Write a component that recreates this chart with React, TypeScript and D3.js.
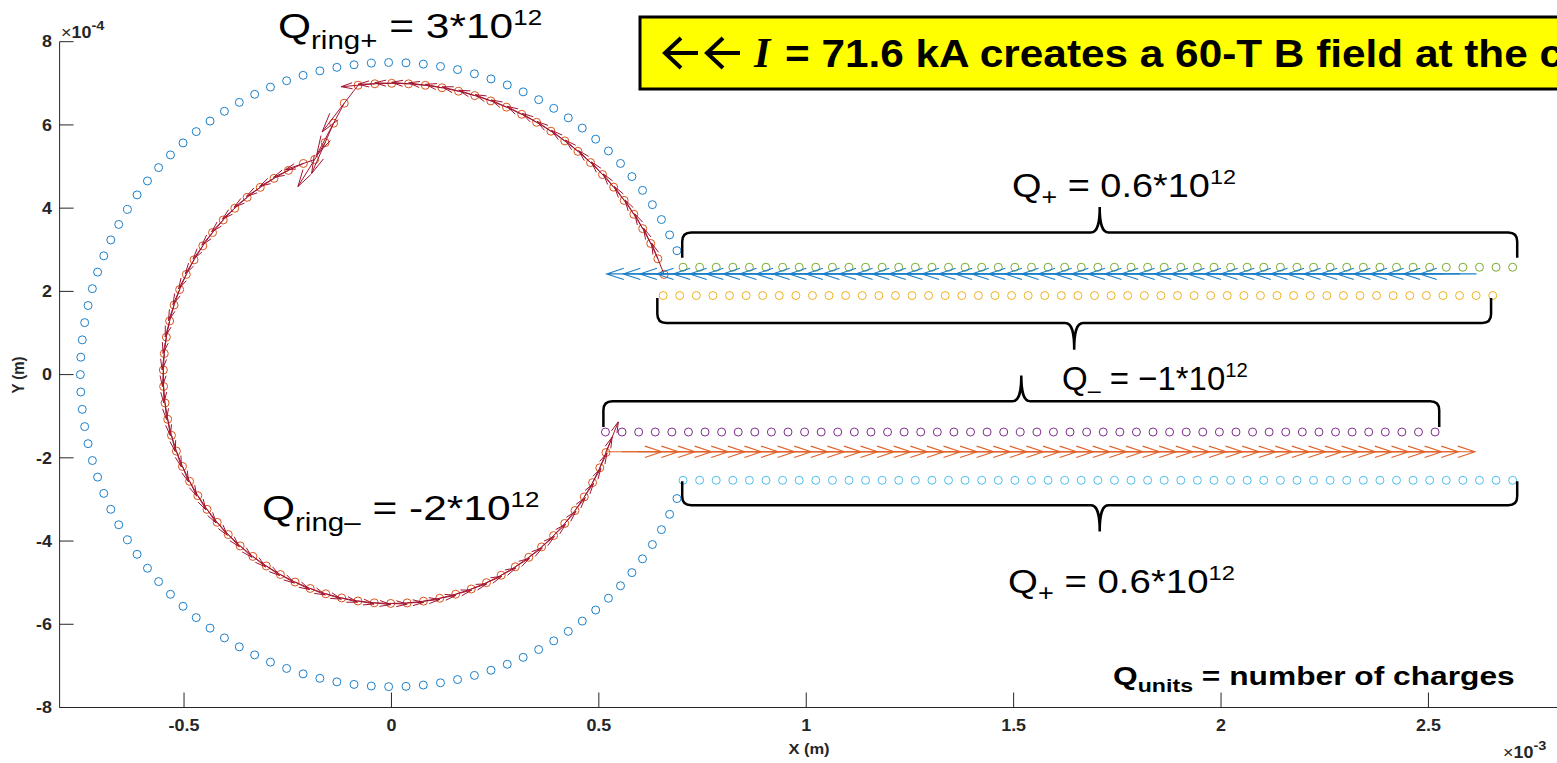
import * as d3 from "d3";

// ---- data (metres) ----
const xTickValues = [-0.5, 0, 0.5, 1, 1.5, 2, 2.5]; // x 10^-3
const yTickValues = [-8, -6, -4, -2, 0, 2, 4, 6, 8]; // x 10^-4

// outer ring of charges: radius, first angle (deg), last angle, count
const outerRing = [7.5e-4, 23.4, 336.6, 99];

// straight rows of charges
const rowY = [2.58e-4, 1.9e-4, -1.38e-4, -2.54e-4];
const rowX0 = [0.703e-3, 0.655e-3, 0.516e-3, 0.703e-3];
const rowX1 = [2.703e-3, 2.655e-3, 2.516e-3, 2.703e-3];
const rowCount = [51, 51, 51, 51];
const rowColors = ["#77AC30", "#EDB120", "#7E2F8E", "#4DBEEE"];

// red trajectory: upper arc (r, from, to, n), jump points, lower arc
const pathUpper = [7.0e-4, 20.1, 96.6, 24];
const pathJumpR = [6.62e-4, 6.2e-4, 5.8e-4, 5.49e-4];
const pathJumpDeg = [99.9, 103, 106, 109.7];
const pathLower = [5.5e-4, 112.7, 340.1, 56];

// quivers along the wires: y, first x, last x, count, arrow dx
const quiverBlue = [2.42e-4, 2.616e-3, 0.656e-3, 50, -0.137e-3];
const quiverOrange = [-1.855e-4, 0.515e-3, 2.475e-3, 50, 0.137e-3];

// braces: x ends, end y, line y, tip y
const braceX0 = [0.701e-3, 0.641e-3, 0.511e-3, 0.701e-3];
const braceX1 = [2.714e-3, 2.651e-3, 2.526e-3, 2.714e-3];
const braceEndY = [2.81e-4, 1.843e-4, -1.26e-4, -2.56e-4];
const braceLineY = [3.415e-4, 1.241e-4, -0.64e-4, -3.14e-4];
const braceTipY = [4.03e-4, 0.6e-4, -0.02e-4, -3.77e-4];

const W = 1557;
const H = 763;
const FONT = "'Liberation Sans', Arial, sans-serif";
const AX = "#262626";

const x = d3.scaleLinear().domain([-0.8e-3, 2.9e-3]).range([59.6, 59.6 + 3.7 * 414.8]);
const y = d3.scaleLinear().domain([-8e-4, 8e-4]).range([707.5, 41.7]);

const arc = (r: number, a0: number, a1: number, n: number) =>
  d3.range(n).map((i) => {
    const a = ((a0 + ((a1 - a0) * i) / (n - 1)) * Math.PI) / 180;
    return [r * Math.cos(a), r * Math.sin(a)];
  });

const ringPts = arc(outerRing[0], outerRing[1], outerRing[2], outerRing[3]);
const redPts = [
  ...arc(pathUpper[0], pathUpper[1], pathUpper[2], pathUpper[3]),
  ...pathJumpR.map((r, i) => {
    const a = (pathJumpDeg[i] * Math.PI) / 180;
    return [r * Math.cos(a), r * Math.sin(a)];
  }),
  ...arc(pathLower[0], pathLower[1], pathLower[2], pathLower[3]),
];
const jumpStart = pathUpper[3] - 1;
const jumpEnd = pathUpper[3] + pathJumpR.length;

function arrowPath(x1: number, y1: number, x2: number, y2: number, hf: number, wf: number) {
  const dx = x2 - x1;
  const dy = y2 - y1;
  const L = Math.hypot(dx, dy);
  const ux = dx / L;
  const uy = dy / L;
  const bx = x2 - ux * L * hf;
  const by = y2 - uy * L * hf;
  const px = -uy * L * wf;
  const py = ux * L * wf;
  return `M${x1},${y1}L${x2},${y2}M${bx + px},${by + py}L${x2},${y2}L${bx - px},${by - py}`;
}

const redArrows = redPts.map((p, i) => {
  const a = i < redPts.length - 1 ? p : redPts[i - 1];
  const b = i < redPts.length - 1 ? redPts[i + 1] : p;
  const k = i >= jumpStart && i < jumpEnd ? 2.6 : 2.0;
  const x1 = x(p[0]);
  const y1 = y(p[1]);
  const x2 = x1 + (x(b[0]) - x(a[0])) * k;
  const y2 = y1 + (y(b[1]) - y(a[1])) * k;
  return arrowPath(x1, y1, x2, y2, 0.33, 0.09);
});

function quiver(q: number[]) {
  const [qy, q0, q1, n, du] = q;
  return d3.range(n).map((i) => {
    const qx = q0 + ((q1 - q0) * i) / (n - 1);
    return arrowPath(x(qx), y(qy), x(qx + du), y(qy), 0.3, 0.1);
  });
}

function bracePath(i: number) {
  const x0 = x(braceX0[i]);
  const x1 = x(braceX1[i]);
  const ye = y(braceEndY[i]);
  const yl = y(braceLineY[i]);
  const yt = y(braceTipY[i]);
  const s = Math.sign(yl - ye);
  const r = 9;
  const m = (x0 + x1) / 2;
  const w = 9;
  const c = yl + (yt - yl) * 0.35;
  return (
    `M${x0},${ye}L${x0},${yl - s * r}Q${x0},${yl} ${x0 + r},${yl}L${m - w},${yl}` +
    `C${m - 2},${yl} ${m},${c} ${m},${yt}C${m},${c} ${m + 2},${yl} ${m + w},${yl}` +
    `L${x1 - r},${yl}Q${x1},${yl} ${x1},${yl - s * r}L${x1},${ye}`
  );
}

// text that is stretched horizontally like the slide it came from
const Wide = ({
  tx,
  ty,
  sx,
  children,
  ...rest
}: { tx: number; ty: number; sx: number; children: React.ReactNode; [k: string]: unknown }) => (
  <g transform={`translate(${tx},${ty}) scale(${sx},1)`}>
    <text {...rest}>{children}</text>
  </g>
);

const Arrow = ({ x0 }: { x0: number }) => (
  <path
    d={`M${x0 + 35},53 L${x0 + 2},53 M${x0 + 18},38 L${x0 + 2},53 L${x0 + 18},68`}
    stroke="#000"
    strokeWidth={4}
    fill="none"
  />
);

export default function App() {
  const plotRight = W;
  const left = x.range()[0];
  const bottom = y(-8e-4);
  return (
    <svg width={W} height={H} style={{ position: "absolute", left: 0, top: 0 }} fontFamily={FONT}>
      <rect width={W} height={H} fill="#fff" />

      {/* axes */}
      <g stroke={AX} strokeWidth={1} fill="none">
        <line x1={left} x2={left} y1={y(8e-4)} y2={bottom} />
        <line x1={left} x2={plotRight} y1={bottom} y2={bottom} />
        {yTickValues.map((t) => (
          <line key={t} x1={left} x2={left + 14} y1={y(t * 1e-4)} y2={y(t * 1e-4)} />
        ))}
        {xTickValues.map((t) => (
          <line key={t} x1={x(t * 1e-3)} x2={x(t * 1e-3)} y1={bottom} y2={bottom - 15} />
        ))}
      </g>
      <g fill={AX} fontSize={16} fontWeight="bold">
        {yTickValues.map((t) => (
          <Wide key={t} tx={52} ty={y(t * 1e-4)} sx={1.12} dy="0.36em" textAnchor="end">
            {t}
          </Wide>
        ))}
        {xTickValues.map((t) => (
          <Wide key={t} tx={x(t * 1e-3)} ty={731} sx={1.12} textAnchor="middle">
            {t}
          </Wide>
        ))}
        <Wide tx={809} ty={754} sx={1.1} textAnchor="middle" fontSize={15}>
          X (m)
        </Wide>
        <text transform="translate(24,375) rotate(-90) scale(1,1.1)" textAnchor="middle" fontSize={15}>
          Y (m)
        </text>
        <Wide tx={61} ty={38} sx={1.12}>
          <tspan fontWeight="normal">×</tspan>10<tspan fontSize={13} dy={-8}>-4</tspan>
        </Wide>
        <Wide tx={1503} ty={758} sx={1.12}>
          <tspan fontWeight="normal">×</tspan>10<tspan fontSize={13} dy={-8}>-3</tspan>
        </Wide>
      </g>

      {/* outer ring */}
      <g fill="none" stroke="#1B7FC8" strokeWidth={1}>
        {ringPts.map((p, i) => (
          <circle key={i} cx={x(p[0])} cy={y(p[1])} r={4} />
        ))}
      </g>

      {/* rows */}
      {rowY.map((ry, k) => (
        <g key={k} fill="none" stroke={rowColors[k]} strokeWidth={1}>
          {d3.range(rowCount[k]).map((i) => (
            <circle
              key={i}
              cx={x(rowX0[k] + ((rowX1[k] - rowX0[k]) * i) / (rowCount[k] - 1))}
              cy={y(ry)}
              r={4}
            />
          ))}
        </g>
      ))}

      {/* trajectory */}
      <g fill="none" stroke="#D95319" strokeWidth={1}>
        {redPts.map((p, i) => (
          <circle key={i} cx={x(p[0])} cy={y(p[1])} r={4} />
        ))}
      </g>
      <g fill="none" stroke="#A2142F" strokeWidth={1}>
        {redArrows.map((d, i) => (
          <path key={i} d={d} />
        ))}
      </g>
      <g fill="none" stroke="#1B7FC8" strokeWidth={1.1}>
        {quiver(quiverBlue).map((d, i) => (
          <path key={i} d={d} />
        ))}
      </g>
      <g fill="none" stroke="#E0622A" strokeWidth={1.1}>
        {quiver(quiverOrange).map((d, i) => (
          <path key={i} d={d} />
        ))}
      </g>

      {/* braces */}
      <g fill="none" stroke="#000" strokeWidth={2.5}>
        {braceX0.map((_, i) => (
          <path key={i} d={bracePath(i)} />
        ))}
      </g>

      {/* labels */}
      <g fill="#000" fontSize={36}>
        <Wide tx={278} ty={38} sx={1.18}>
          Q<tspan fontSize={25} dy={11}>ring+</tspan>
          <tspan dy={-11}> = 3*10</tspan>
          <tspan fontSize={22} dy={-13}>12</tspan>
        </Wide>
        <Wide tx={262} ty={520} sx={1.18}>
          Q<tspan fontSize={25} dy={11}>ring–</tspan>
          <tspan dy={-11}> = -2*10</tspan>
          <tspan fontSize={22} dy={-13}>12</tspan>
        </Wide>
      </g>
      <g fill="#000" fontSize={34}>
        <Wide tx={1012} ty={197} sx={1.115}>
          Q<tspan fontSize={24} dy={8}>+</tspan>
          <tspan dy={-8}> = 0.6*10</tspan>
          <tspan fontSize={21} dy={-13}>12</tspan>
        </Wide>
        <Wide tx={1062} ty={390} sx={0.97}>
          Q<tspan fontSize={24} dy={8}>–</tspan>
          <tspan dy={-8}> = −1*10</tspan>
          <tspan fontSize={21} dy={-13}>12</tspan>
        </Wide>
        <Wide tx={1008} ty={593} sx={1.13}>
          Q<tspan fontSize={24} dy={8}>+</tspan>
          <tspan dy={-8}> = 0.6*10</tspan>
          <tspan fontSize={21} dy={-13}>12</tspan>
        </Wide>
      </g>
      <Wide tx={1113} ty={685} sx={1.22} fontSize={26} fontWeight="bold" fill="#000">
        Q<tspan fontSize={19} dy={7}>units</tspan>
        <tspan dy={-7}> = number of charges</tspan>
      </Wide>

      {/* yellow banner */}
      <rect x={640} y={17} width={1000} height={72} fill="#FFFF00" stroke="#000" strokeWidth={3} />
      <Arrow x0={663} />
      <Arrow x0={705} />
      <text
        x={754}
        y={67}
        fontSize={42}
        fontStyle="italic"
        fontWeight="bold"
        fontFamily="'Liberation Serif', 'Times New Roman', serif"
      >
        I
      </text>
      <Wide tx={785} ty={67} sx={1.085} fontSize={39} fontWeight="bold" fill="#000">
        = 71.6 kA creates a 60-T B field at the center
      </Wide>
    </svg>
  );
}
